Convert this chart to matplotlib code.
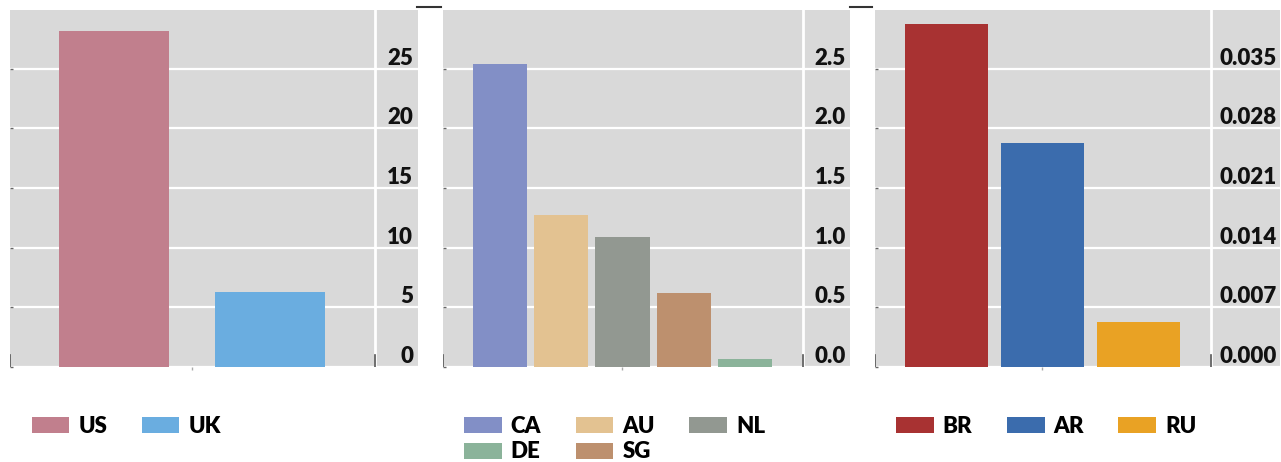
import matplotlib
matplotlib.use("Agg")
import matplotlib.pyplot as plt
from matplotlib.patches import Patch
from matplotlib.lines import Line2D

# ---- data ----
cats1 = ["US", "UK"]
vals1 = [28.1, 6.3]
cols1 = ["#c17f8d", "#6aade0"]
ticks1 = [0, 5, 10, 15, 20, 25]
ticklabels1 = ["0", "5", "10", "15", "20", "25"]

cats2 = ["CA", "AU", "NL", "SG", "DE"]
vals2 = [2.54, 1.27, 1.09, 0.62, 0.065]
cols2 = ["#828fc6", "#e3c291", "#929891", "#bd906e", "#8bb39a"]
ticks2 = [0.0, 0.5, 1.0, 1.5, 2.0, 2.5]
ticklabels2 = ["0.0", "0.5", "1.0", "1.5", "2.0", "2.5"]
legend_order2 = ["CA", "DE", "AU", "SG", "NL"]  # column-major fill -> rows CA AU NL / DE SG

cats3 = ["BR", "AR", "RU"]
vals3 = [0.0402, 0.0263, 0.0053]
cols3 = ["#a83232", "#3b6cad", "#e9a224"]
ticks3 = [0.000, 0.007, 0.014, 0.021, 0.028, 0.035]
ticklabels3 = ["0.000", "0.007", "0.014", "0.021", "0.028", "0.035"]

W, H = 1281, 462
fig = plt.figure(figsize=(W / 100, H / 100), dpi=100)
FONT = "Lato"
WEIGHT = 800
FS = 16
GRAY = "#d9d9d9"

def px_axes(x0, x1, y0, y1):
    return fig.add_axes([x0 / W, 1 - y1 / H, (x1 - x0) / W, (y1 - y0) / H])

panels = [
    dict(box=(10, 418), cats=cats1, vals=vals1, cols=cols1, ticks=ticks1, tl=ticklabels1,
         xlim=(-0.667, 1.949), vline=1.673, width=0.705, ytop=29.9, pad=-3.6, mid=0.5,
         order=cats1, ncol=2, lx=31.7),
    dict(box=(443, 850), cats=cats2, vals=vals2, cols=cols2, ticks=ticks2, tl=ticklabels2,
         xlim=(-0.923, 5.705), vline=4.94, width=0.88, ytop=2.99, pad=-2.9, mid=2,
         order=legend_order2, ncol=3, lx=464),
    dict(box=(875, 1280), cats=cats3, vals=vals3, cols=cols3, ticks=ticks3, tl=ticklabels3,
         xlim=(-0.748, 3.479), vline=2.759, width=0.866, ytop=0.04186, pad=-2.2, mid=1,
         order=cats3, ncol=3, lx=896),
]

for p in panels:
    ax = px_axes(p["box"][0], p["box"][1], 10, 367)
    ax.set_facecolor(GRAY)
    for s in ax.spines.values():
        s.set_visible(False)
    ax.set_axisbelow(True)
    ax.yaxis.grid(True, color="white", linewidth=1.6)
    ax.xaxis.grid(False)
    xs = list(range(len(p["cats"])))
    ax.bar(xs, p["vals"], width=p["width"], color=p["cols"], edgecolor="none", zorder=2)
    ax.set_xlim(*p["xlim"])
    ax.set_ylim(0, p["ytop"])
    ax.axvline(p["vline"], color="white", linewidth=2, zorder=1.5)
    ax.axvline(p["xlim"][0], ymin=0, ymax=0.035, color="#555555", linewidth=1.2, zorder=3)
    ax.axvline(p["vline"], ymin=0, ymax=0.035, color="#555555", linewidth=1.2, zorder=3)
    ax.tick_params(axis="y", left=True, right=False, labelleft=False, labelright=True,
                   length=2, width=1, color="#666666", pad=p["pad"], direction="in")
    ax.set_yticks(p["ticks"])
    ax.set_yticklabels(p["tl"], family=FONT, weight=WEIGHT, size=FS, color="#111111",
                       ha="right", va="bottom")
    ax.set_xticks([p["mid"]])
    ax.set_xticklabels([""])
    ax.tick_params(axis="x", length=2, width=1, color="#aaaaaa", direction="out")

    cmap = dict(zip(p["cats"], p["cols"]))
    handles = [Patch(facecolor=cmap[c], edgecolor="none", label=c) for c in p["order"]]
    fig.legend(handles=handles, loc="upper left",
               bbox_to_anchor=(p["lx"] / W, 1 - 416 / H), bbox_transform=fig.transFigure,
               ncol=p["ncol"], frameon=False, borderpad=0, borderaxespad=0,
               handlelength=1.7, handleheight=0.75, handletextpad=0.4,
               columnspacing=1.55, labelspacing=0.2,
               prop=dict(family=FONT, weight=WEIGHT, size=FS))

for x0, x1 in [(417, 441), (850, 872)]:
    fig.add_artist(Line2D([x0 / W, x1 / W], [1 - 7 / H, 1 - 7 / H], color="#333333",
                          linewidth=1.5, transform=fig.transFigure))

fig.savefig("out.png", dpi=100)
